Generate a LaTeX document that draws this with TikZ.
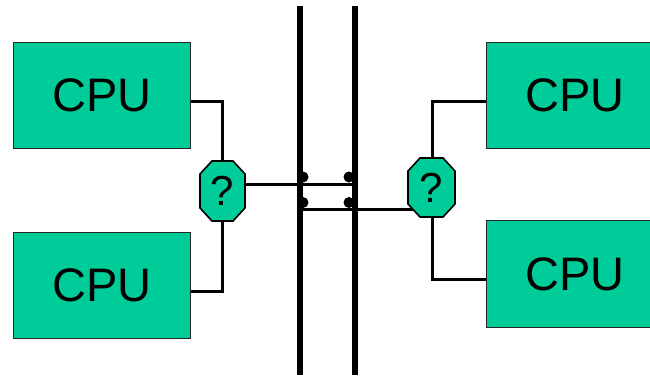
\documentclass[tikz,border=0pt]{standalone}
\usepackage{fontspec}
\setmainfont{Liberation Sans}
\definecolor{cpugreen}{RGB}{0,204,153}
\begin{document}
\begin{tikzpicture}[x=1pt,y=-1pt,
  cpubox/.style={draw=black!85,line width=1.3pt,fill=cpugreen,minimum width=177pt,minimum height=106pt,inner sep=0pt,font=\fontsize{47}{50}\selectfont,anchor=north west},
  qbox/.style={minimum width=45pt,minimum height=60pt,inner sep=0pt,font=\fontsize{42}{44}\selectfont},
  octo/.style={draw=black,line width=1.6pt,fill=cpugreen,line join=miter},
  wire/.style={line width=3pt},
  bus/.style={line width=6pt},
  joint/.style={circle,fill=black,minimum size=11pt,inner sep=0pt}]
\useasboundingbox (0,0) rectangle (650,375);
% CPU boxes
\node[cpubox] (c1) at (13,42) {CPU};
\node[cpubox] (c2) at (13,232) {CPU};
\node[cpubox] (c3) at (486,42) {CPU};
\node[cpubox,minimum height=107pt] (c4) at (486,220) {CPU};
% buses
\coordinate (b1t) at (299.5,6);
\coordinate (b1b) at (299.5,375);
\coordinate (b2t) at (354.5,6);
\coordinate (b2b) at (354.5,375);
\draw[bus] (b1t) -- (b1b);
\draw[bus] (b2t) -- (b2b);
% connector points
\coordinate (k1) at (222,101);
\coordinate (k2) at (222,291);
\coordinate (k3) at (432,101);
\coordinate (k4) at (432,279);
\coordinate (e1) at (357,184);
\coordinate (e2) at (297,209.5);
\draw[wire] (c1.east |- k1) -- (k1) -- (222,191);
\draw[wire] (c2.east |- k2) -- (k2) -- (222,191);
\draw[wire] (c3.west |- k3) -- (k3) -- (432,188);
\draw[wire] (c4.west |- k4) -- (k4) -- (432,188);
\draw[wire] (222,184) -- (e1);
\draw[wire] (e2) -- (432,209.5);
% octagons
\draw[octo] (212,161) -- (233,161) -- (245,174) -- (245,208) -- (233,221) -- (212,221) -- (200,208) -- (200,174) -- cycle;
\draw[octo] (420,158) -- (443,158) -- (455,171) -- (455,204) -- (443,217) -- (420,217) -- (408,204) -- (408,171) -- cycle;
\node[qbox] (q1) at (222.5,191) {?};
\node[qbox] (q2) at (431.5,187.5) {?};
% joints
\node[joint] (j1) at (303,177) {};
\node[joint] (j2) at (349,177) {};
\node[joint] (j3) at (303,202.5) {};
\node[joint] (j4) at (349,202.5) {};
\end{tikzpicture}
\end{document}
